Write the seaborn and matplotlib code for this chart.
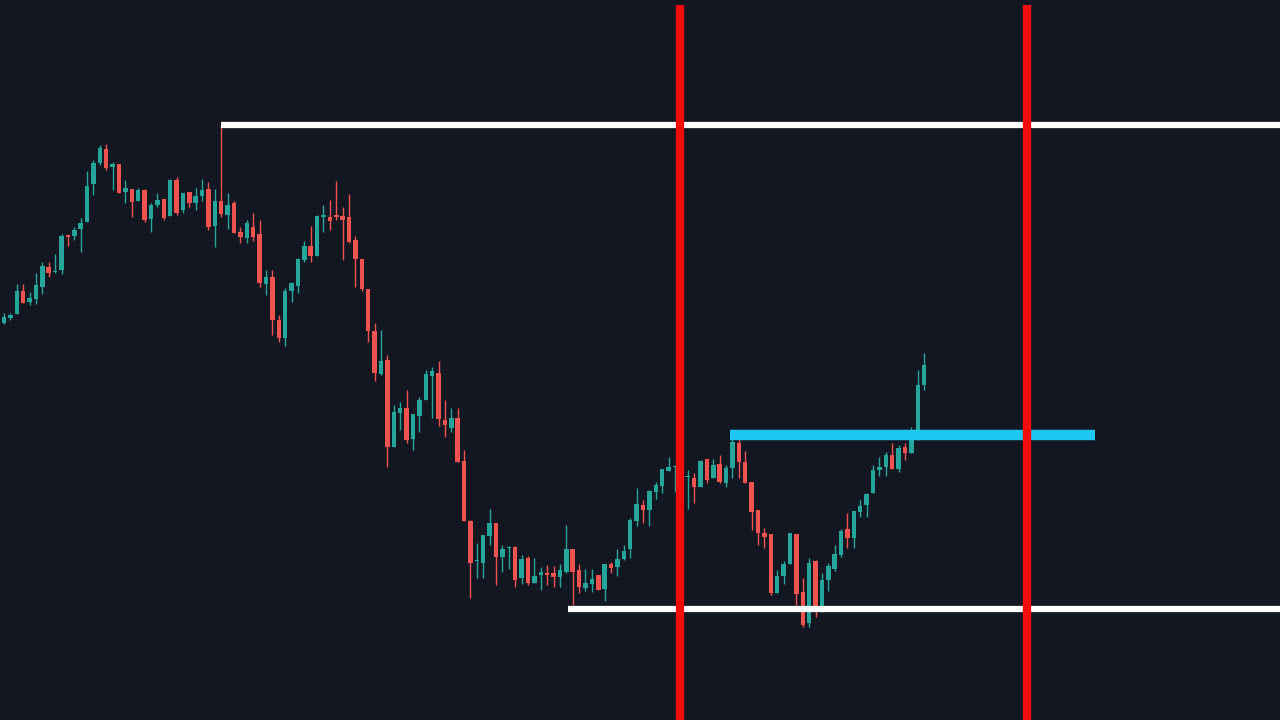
import matplotlib
matplotlib.use("Agg")
import matplotlib.pyplot as plt
import seaborn as sns
import numpy as np

sns.set_style("dark")

# candle data (chart units: larger value = lower on screen)
opens = [323,318,314,291,302,299,287,267,272,270,235,236,229,222,184,163,149,167,164,192,189,201,190,219,205,199,216,180,210,192,203,196,189,226,201,215,203,
         232,238,227,234,284,277,320,338,291,286,260,246,256,217,217,215,216,217,240,259,289,331,374,360,447,413,408,439,416,400,376,373,420,428,418,461,
         521,561,563,536,523,557,548,547,578,558,583,575,573,573,577,572,549,570,588,584,575,589,564,567,559,549,521,505,510,492,486,471,467,466,477,478,
         487,459,478,464,483,468,443,462,482,510,533,534,593,576,564,534,592,623,561,607,580,569,555,529,538,512,505,493,470,467,455,469,447,453,440,385]
closes = [317,315,291,303,298,285,266,273,271,236,237,230,223,186,163,148,168,164,193,188,202,190,220,205,200,218,180,213,193,203,196,190,227,201,214,205,233,
          237,223,237,283,277,320,338,291,283,259,246,256,216,215,221,217,220,242,259,289,331,373,361,447,412,408,440,414,400,374,371,419,425,418,462,521,
          563,560,535,523,557,549,547,580,559,583,576,572,575,577,570,549,572,587,583,579,590,564,568,559,551,520,504,510,491,485,469,467,466,463,476,487,
          461,480,465,482,468,442,462,483,512,533,537,593,576,564,533,594,625,563,607,580,566,554,531,538,511,506,494,470,467,455,469,448,453,440,385,365]
highs = [313,313,284,284,292,273,262,262,254,234,234,227,218,171,160,145,144,162,164,180,189,188,189,203,193,199,179,177,193,192,188,179,182,189,125,193,201,
         227,220,213,220,270,270,315,288,282,258,241,226,215,205,200,181,207,194,236,259,289,323,330,355,405,402,390,414,397,370,367,361,400,408,408,450,
         520,543,535,509,523,545,546,546,555,556,558,567,565,566,564,525,549,564,569,569,575,564,562,549,545,518,488,500,490,482,469,457,465,458,470,473,
         460,459,459,455,465,437,437,451,482,510,528,534,570,561,533,534,578,558,560,573,563,545,529,513,511,500,493,465,457,452,443,445,443,427,370,353]
lows = [324,320,314,303,305,304,294,277,273,274,246,240,252,222,195,165,170,190,193,203,217,201,222,232,207,220,216,215,213,207,210,201,230,247,217,229,233,
        243,243,241,287,295,335,342,346,302,293,262,262,256,232,230,220,260,243,287,291,342,381,375,467,447,430,443,450,432,400,418,426,437,432,462,521,
        598,578,578,545,585,572,569,587,584,585,583,590,585,587,587,573,605,593,591,592,590,601,573,576,560,558,526,523,526,499,493,471,492,478,509,503,
        487,483,478,483,487,478,478,483,530,545,548,595,593,584,564,605,627,627,617,612,591,571,557,548,548,517,517,493,476,476,469,472,460,453,440,390]

# horizontal levels: (value, start candle position, end candle position or None=right edge)
level_values = [125, 609, 435]
level_starts = [35.0, 89.2, 114.6]
level_ends = [None, None, 171.7]
level_colors = ["#ffffff", "#ffffff", "#1ec8f0"]
level_widths = [4.5, 4.5, 7.5]
# vertical markers (candle positions)
vline_pos = [106.8, 161.1]

GREEN = "#26a69a"
RED = "#ef5350"
BG = "#131722"

n = len(opens)
idx = np.arange(1, n + 1)
o = np.array(opens); c = np.array(closes); h = np.array(highs); l = np.array(lows)
up = c < o
cols = np.where(up, GREEN, RED)

fig = plt.figure(figsize=(12.8, 7.2), dpi=100, facecolor=BG)
ax = fig.add_axes([0, 0, 1, 1])
ax.set_facecolor(BG)

x_left = 1 - 4 / 6.39
x_right = x_left + 1280 / 6.39
ax.set_xlim(x_left, x_right)
ax.set_ylim(720, 0)

ax.vlines(idx, h, l, colors=cols, linewidth=1.0, zorder=2)
body_bottom = np.minimum(o, c)
body_h = np.maximum(np.abs(c - o), 1.2)
ax.bar(idx, body_h, bottom=body_bottom, width=0.7, color=cols, linewidth=0, zorder=3)

for v, s, e, col, w in zip(level_values, level_starts, level_ends, level_colors, level_widths):
    ax.hlines(v, s, x_right if e is None else e, colors=col, linewidth=w, zorder=4)

ax.vlines(vline_pos, 5, 720, colors="#f20d0d", linewidth=6, zorder=5)

ax.set_xticks([]); ax.set_yticks([])
for sp in ax.spines.values():
    sp.set_visible(False)
ax.grid(False)

fig.savefig("out.png", dpi=100, facecolor=BG)
